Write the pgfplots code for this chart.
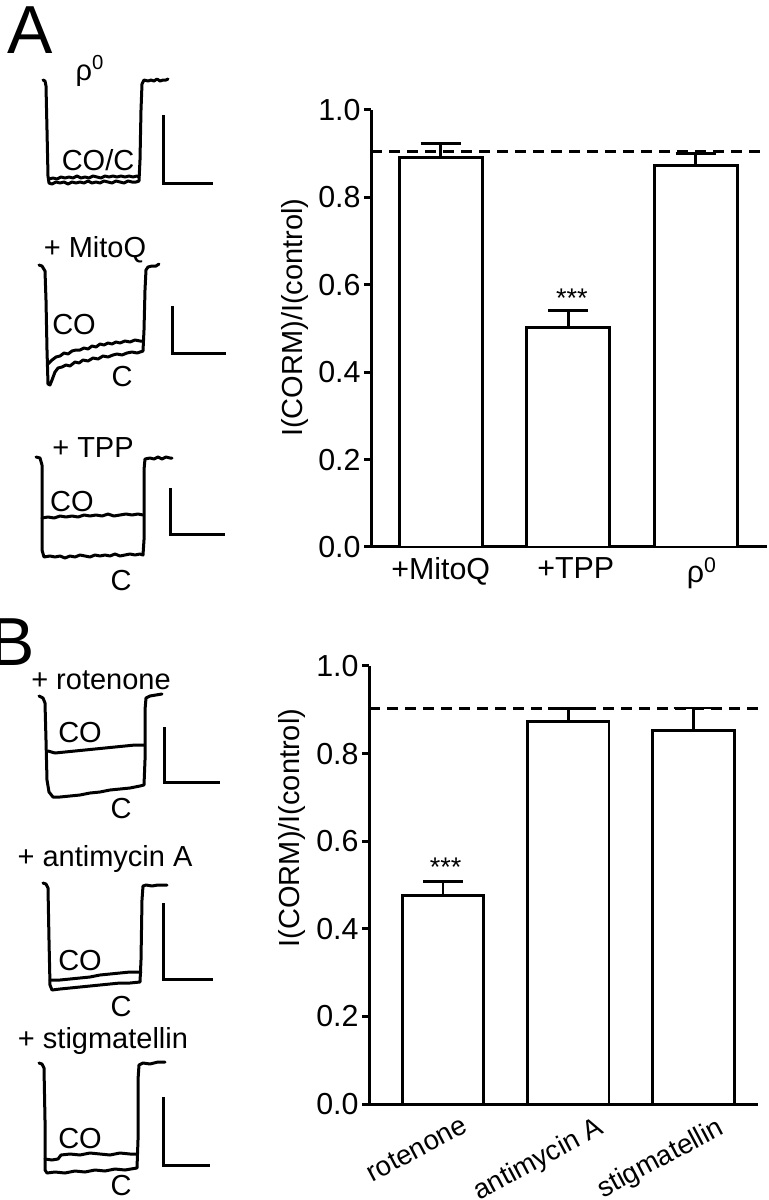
\documentclass[border=0pt]{standalone}
\usepackage{fontspec}
\setmainfont{Liberation Sans}
\usepackage{pgfplots}
\pgfplotsset{compat=1.18}
\newcommand\lab{\fontsize{14.5}{16}\selectfont}
\newcommand\tlab{\fontsize{15.2}{17}\selectfont}
\newcommand\rlab{\fontsize{13.8}{15}\selectfont}
\tikzset{trace/.style={black, line width=1.5pt, line join=round, line cap=round},
  sbar/.style={black, line width=1.5pt, line join=miter}}
\pgfplotsset{
  barpanel/.style={
    scale only axis, anchor=south west,
    ymin=0, ymax=1,
    axis x line=bottom, axis y line=left,
    axis line style={line width=1.5pt, -},
    ytick={0,0.2,0.4,0.6,0.8,1.0},
    yticklabels={0.0,0.2,0.4,0.6,0.8,1.0},
    tick align=outside, major tick length=3.5pt,
    every tick/.style={black, line width=1.5pt},
    major x tick style=transparent,
    tick label style={font=\tlab, inner sep=1.5pt},
    /pgf/number format/assume math mode=true,
    label style={font=\lab},
    ylabel={I(CORM)/I(control)},
    clip=false,
  },
  bars/.style={ybar, bar width=0.65, fill=white, draw=black, line width=1.45pt,
    error bars/.cd, y dir=plus, y explicit,
    error bar style={line width=1.45pt, black},
    error mark options={rotate=90, mark size=10pt, line width=1.45pt, black}},
  dash/.style={black, line width=1.5pt, dash pattern=on 5.5pt off 3.5pt},
}
\pgfplotstableread{
x y e
1 0.892 0.032
2 0.502 0.039
3 0.873 0.028
}\dataA
\pgfplotstableread{
x y e
1 0.477 0.030
2 0.874 0.029
3 0.853 0.051
}\dataB
\begin{document}
\begin{tikzpicture}
\useasboundingbox (0,0) rectangle (384pt,600pt);
\fill[white] (0,0) rectangle (384pt,600pt);

% ---------------- current traces (pixel coordinates) ----------------
\begin{axis}[at={(0pt,0pt)}, anchor=south west, scale only axis,
  width=384pt, height=600pt, xmin=0, xmax=768, ymin=0, ymax=1200,
  y dir=reverse, hide axis, clip=false]
% rho0
\addplot[trace] coordinates {(43,80) (45,81) (46,86) (47,130) (48,176) (49,183) (52,184) (56,182) (60,183) (64,182) (68,184) (72,182) (76,183) (80,182) (84,183) (88,181) (92,183) (96,182) (100,183) (104,181) (108,182) (112,183) (116,181) (120,182) (124,183) (128,181) (132,182) (136,182) (139,181) (140,160) (141,110) (142,84) (144,80) (148,81) (151,80) (154,81) (157,79) (160,81) (163,80) (166,80) (168,79)};
\addplot[trace] coordinates {(49,179) (53,178) (57,179) (61,177) (65,178) (69,177) (73,178) (77,176) (81,178) (85,177) (89,178) (93,176) (97,177) (101,178) (105,176) (109,177) (113,176) (117,177) (121,176) (125,177) (129,176) (133,177) (137,176) (139,177)};
\addplot[sbar] coordinates {(163,115) (163,183) (213,183)};
% MitoQ
\addplot[trace] coordinates {(39,265) (42,266) (45,271) (46,300) (47,350) (48,384) (50,385) (52,380) (55,372) (58,368) (62,367) (66,365) (70,366) (75,362) (79,363) (83,360) (88,361) (93,358) (98,359) (103,356) (108,357) (113,355) (117,354) (122,355) (127,353) (132,352) (137,353) (143,351) (144,330) (145,290) (146,270) (148,267) (152,266) (156,266) (159,264)};
\addplot[trace] coordinates {(48,364) (52,360) (56,357) (60,356) (64,353) (68,354) (72,351) (76,350) (80,350) (84,348) (88,349) (92,346) (96,347) (100,344) (104,345) (108,343) (112,344) (116,342) (120,343) (125,341) (130,342) (135,340) (140,341) (143,341)};
\addplot[sbar] coordinates {(172,306) (172,353) (226,353)};
% TPP
\addplot[trace] coordinates {(36,457) (40,458) (42,465) (42,550) (44,557) (50,556) (55,557) (60,556) (65,558) (70,556) (75,557) (80,555) (85,556) (90,557) (95,555) (100,556) (105,555) (110,556) (115,554) (120,556) (125,555) (130,554) (135,555) (140,554) (143,555) (144,540) (144,470) (145,459) (150,458) (154,459) (158,457) (162,459) (166,457) (170,458) (172,458)};
\addplot[trace] coordinates {(42,518) (48,517) (54,518) (60,516) (66,517) (72,516) (78,517) (84,515) (90,516) (96,515) (102,516) (108,514) (114,516) (120,515) (126,514) (132,515) (138,514) (143,515)};
\addplot[sbar] coordinates {(170,488) (170,534) (225,534)};
% rotenone
\addplot[trace] coordinates {(39,696) (43,698) (45,703) (46,740) (47,780) (49,792) (53,797) (60,797) (70,796) (80,795) (90,793) (100,792) (110,790) (120,789) (130,788) (140,786) (144,785) (145,760) (145,710) (146,698) (150,696) (156,695) (162,694)};
\addplot[trace] coordinates {(48,751) (55,753) (65,752) (75,751) (85,750) (95,749) (105,748) (115,747) (125,746) (135,745) (144,745)};
\addplot[sbar] coordinates {(164,727) (164,782) (220,782)};
% antimycin A
\addplot[trace] coordinates {(43,883) (46,884) (48,888) (49,940) (50,985) (52,990) (60,989) (70,988) (80,987) (90,986) (100,985) (110,984) (120,983) (130,983) (140,982) (141,960) (142,900) (143,886) (146,885) (152,886) (158,885) (167,885)};
\addplot[trace] coordinates {(50,980) (60,980) (70,979) (80,978) (90,977) (100,975) (110,974) (120,973) (130,972) (141,972)};
\addplot[sbar] coordinates {(163,903) (163,979) (213,979)};
% stigmatellin
\addplot[trace] coordinates {(39,1063) (42,1064) (44,1068) (45,1120) (45,1170) (47,1173) (55,1172) (65,1173) (75,1171) (85,1172) (95,1170) (105,1171) (115,1169) (125,1170) (137,1168) (138,1140) (138,1080) (139,1065) (143,1063) (150,1064) (158,1062) (165,1062)};
\addplot[trace] coordinates {(45,1159) (52,1160) (58,1159) (61,1155) (70,1154) (80,1155) (90,1153) (100,1154) (110,1155) (120,1153) (130,1154) (137,1154)};
\addplot[sbar] coordinates {(163,1097) (163,1165) (210,1165)};
% labels
\node[font=\fontsize{34}{34}\selectfont, anchor=base, inner sep=0pt] at (axis cs:30,53) {A};
\node[font=\fontsize{34}{34}\selectfont, anchor=base east, inner sep=0pt] at (axis cs:35,665) {B};
\node[font=\lab, inner sep=0pt] at (axis cs:90,71) {ρ\textsuperscript{0}};
\node[font=\lab, inner sep=0pt] at (axis cs:98,160) {CO/C};
\node[font=\lab, inner sep=0pt] at (axis cs:95,250) {+ MitoQ};
\node[font=\lab, inner sep=0pt] at (axis cs:74,325) {CO};
\node[font=\lab, inner sep=0pt] at (axis cs:122,377) {C};
\node[font=\lab, inner sep=0pt] at (axis cs:93,448) {+ TPP};
\node[font=\lab, inner sep=0pt] at (axis cs:72,502) {CO};
\node[font=\lab, inner sep=0pt] at (axis cs:121,581) {C};
\node[font=\lab, inner sep=0pt] at (axis cs:101,680) {+ rotenone};
\node[font=\lab, inner sep=0pt] at (axis cs:80,733) {CO};
\node[font=\lab, inner sep=0pt] at (axis cs:121,809) {C};
\node[font=\lab, inner sep=0pt] at (axis cs:105,859) {+ antimycin A};
\node[font=\lab, inner sep=0pt] at (axis cs:80,961) {CO};
\node[font=\lab, inner sep=0pt] at (axis cs:121,1007) {C};
\node[font=\lab, inner sep=0pt] at (axis cs:103,1041) {+ stigmatellin};
\node[font=\lab, inner sep=0pt] at (axis cs:80,1139) {CO};
\node[font=\lab, inner sep=0pt] at (axis cs:121,1186) {C};
\end{axis}

% ---------------- panel A bars ----------------
\begin{axis}[barpanel, at={(185.5pt,326.5pt)}, width=198pt, height=218.5pt,
  xmin=0.453, xmax=3.56,
  xtick={1,2.06,3.05}, xticklabels={+MitoQ,+TPP,ρ\textsuperscript{0}},
  ylabel style={at={(axis description cs:-0.192,0.525)}, anchor=center}]
\addplot[bars] table[x=x, y=y, y error=e] {\dataA};
\addplot[dash] coordinates {(0.453,0.904) (3.56,0.904)};
\node[font=\fontsize{13.5}{13.5}\selectfont, anchor=base] at (axis cs:2.03,0.547) {***};
\end{axis}

% ---------------- panel B bars ----------------
\begin{axis}[barpanel, at={(184.5pt,48pt)}, width=194.5pt, height=219pt,
  xmin=0.409, xmax=3.514,
  xtick={1.15,2.23,3.19}, xticklabels={rotenone,antimycin A,stigmatellin},
  xticklabel style={rotate=28, anchor=north east, font=\rlab},
  ylabel style={at={(axis description cs:-0.198,0.63)}, anchor=center}]
\addplot[bars] table[x=x, y=y, y error=e] {\dataB};
\addplot[dash] coordinates {(0.409,0.904) (3.514,0.904)};
\node[font=\fontsize{13.5}{13.5}\selectfont, anchor=base] at (axis cs:1.02,0.52) {***};
\end{axis}
\end{tikzpicture}
\end{document}
